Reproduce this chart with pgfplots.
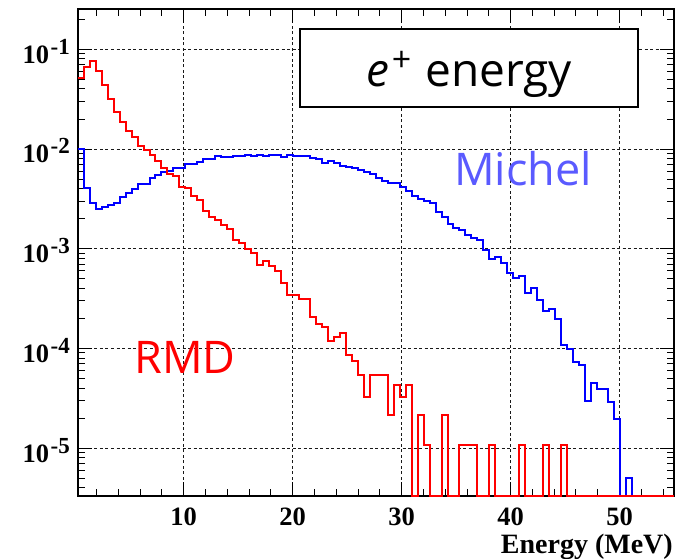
\documentclass[border=0pt]{standalone}
\usepackage{fontspec}
\setmainfont{Liberation Serif}
\newfontfamily\osans{Open Sans}
\usepackage{pgfplots}
\usepackage{pgfplotstable}
\pgfplotsset{compat=1.18}
\definecolor{hblue}{RGB}{0,0,255}
\definecolor{hred}{RGB}{255,0,0}
\definecolor{micol}{RGB}{90,90,255}
\newcommand{\tpow}[1]{10\hspace{1.5pt}\raisebox{9pt}{\fontsize{23}{23}\selectfont #1}}

\pgfplotstableread{
E red blue
0.300 0.0519 0.0100
0.847 0.0669 0.00403
1.394 0.0763 0.00285
1.941 0.0610 0.00247
2.488 0.0441 0.00262
3.035 0.0317 0.00274
3.582 0.0235 0.00287
4.129 0.01866 0.00326
4.676 0.01515 0.00359
5.223 0.01329 0.00393
5.770 0.01079 0.00445
6.317 0.00977 0.00445
6.864 0.00865 0.00512
7.411 0.00752 0.00542
7.958 0.00640 0.00588
8.505 0.00561 0.00602
9.052 0.00540 0.00637
9.599 0.00416 0.00645
10.146 0.00406 0.00707
10.693 0.00338 0.00707
11.240 0.00311 0.00746
11.787 0.00239 0.00788
12.334 0.00210 0.00785
12.881 0.00193 0.00857
13.428 0.00173 0.00826
13.975 0.00159 0.00837
14.522 0.00123 0.00857
15.069 0.00113 0.00841
15.616 0.000993 0.00865
16.163 0.000905 0.00851
16.710 0.000679 0.00865
17.257 0.000749 0.00857
17.804 0.000663 0.00871
18.351 0.000590 0.00877
18.898 0.000450 0.00826
19.445 0.000339 0.00877
19.992 0.000343 0.00857
20.539 0.000311 0.00851
21.086 0.000311 0.00841
21.633 0.000206 0.00812
22.180 0.000174 0.00788
22.727 0.000163 0.00729
23.274 0.000119 0.00752
23.821 0.000129 0.00719
24.368 0.000142 0.00675
24.915 8.59e-5 0.00655
25.462 7.51e-5 0.00640
26.009 5.37e-5 0.00616
26.556 3.22e-5 0.00588
27.103 5.37e-5 0.00557
27.650 5.37e-5 0.00512
28.197 5.37e-5 0.00474
28.744 2.15e-5 0.00459
29.291 4.29e-5 0.00453
29.838 3.22e-5 0.00413
30.385 4.29e-5 0.00382
30.932 3.3e-6 0.00338
31.479 2.15e-5 0.00317
32.026 1.07e-5 0.00299
32.573 3.3e-6 0.00289
33.120 3.3e-6 0.00235
33.667 2.15e-5 0.00209
34.214 3.3e-6 0.00177
34.761 3.3e-6 0.00160
35.308 1.07e-5 0.00154
35.855 1.07e-5 0.00138
36.402 1.07e-5 0.00127
36.949 3.3e-6 0.00122
37.496 3.3e-6 0.000971
38.043 1.07e-5 0.000783
38.590 3.3e-6 0.000832
39.137 3.3e-6 0.000724
39.684 3.3e-6 0.000574
40.231 3.3e-6 0.000508
40.778 1.07e-5 0.000532
41.325 3.3e-6 0.000357
41.872 3.3e-6 0.000401
42.419 3.3e-6 0.000306
42.966 1.07e-5 0.000239
43.513 3.3e-6 0.000250
44.060 3.3e-6 0.000196
44.607 1.07e-5 0.000107
45.154 3.3e-6 9.93e-5
45.701 3.3e-6 7.36e-5
46.248 3.3e-6 6.87e-5
46.795 3.3e-6 2.95e-5
47.342 3.3e-6 4.47e-5
47.889 3.3e-6 3.94e-5
48.436 3.3e-6 3.94e-5
48.983 3.3e-6 2.90e-5
49.530 3.3e-6 1.97e-5
50.077 3.3e-6 3.3e-6
50.624 3.3e-6 4.98e-6
51.171 3.3e-6 3.3e-6
51.718 3.3e-6 3.3e-6
52.265 3.3e-6 3.3e-6
52.812 3.3e-6 3.3e-6
53.359 3.3e-6 3.3e-6
53.906 3.3e-6 3.3e-6
54.453 3.3e-6 3.3e-6
55.000 3.3e-6 3.3e-6
}\histdata

\begin{document}
\begin{tikzpicture}[x=1pt,y=1pt]
\begin{axis}[
  at={(0,0)}, anchor=south west,
  scale only axis, width=596pt, height=487pt,
  ymode=log,
  xmin=0.3, xmax=55, ymin=3.3e-6, ymax=0.2535,
  axis line style={line width=1.5pt},
  tick align=inside, xtick pos=both, ytick pos=both,
  major tick length=14pt, minor tick length=7pt,
  every tick/.style={black, line width=0.9pt},
  xtick={10,20,30,40,50}, xticklabels={10,20,30,40,50},
  minor xtick={2,4,6,8,12,14,16,18,22,24,26,28,32,34,36,38,42,44,46,48,52,54},
  ytick={1e-5,1e-4,1e-3,1e-2,1e-1},
  yticklabels={\tpow{-5},\tpow{-4},\tpow{-3},\tpow{-2},\tpow{-1}},
  minor ytick={4e-6,5e-6,6e-6,7e-6,8e-6,9e-6,
    2e-5,3e-5,4e-5,5e-5,6e-5,7e-5,8e-5,9e-5,
    2e-4,3e-4,4e-4,5e-4,6e-4,7e-4,8e-4,9e-4,
    2e-3,3e-3,4e-3,5e-3,6e-3,7e-3,8e-3,9e-3,
    2e-2,3e-2,4e-2,5e-2,6e-2,7e-2,8e-2,9e-2,2e-1},
  grid=major,
  major grid style={black!90, line width=0.7pt, dash pattern=on 3pt off 2.5pt},
  tick label style={font=\fontsize{26.5}{26.5}\selectfont\bfseries},
  xticklabel style={anchor=base, yshift=-29pt},
  yticklabel style={anchor=base east, inner sep=0pt, xshift=-8pt, yshift=-14pt},
]
\addplot[const plot, color=hblue, line width=2pt, line join=miter, forget plot] table[x=E, y=blue] {\histdata};
\addplot[const plot, color=hred, line width=2pt, line join=miter, forget plot] table[x=E, y=red] {\histdata};
\end{axis}
\draw[line width=1.8pt, fill=white] (222,388.7) rectangle (560.3,466.7);
\node[anchor=base, inner sep=0pt, font=\osans\fontsize{46}{46}\selectfont] at (391,409.3)
  {\textit{e}\hspace{3pt}\raisebox{15pt}{\fontsize{34}{34}\selectfont +}\hspace{2pt} energy};
\node[anchor=base west, inner sep=0pt, text=micol, font=\osans\fontsize{45}{45}\selectfont] at (376,311) {Michel};
\node[anchor=base west, inner sep=0pt, text=hred, font=\osans\fontsize{45}{45}\selectfont] at (56,122.7) {RMD};
\node[anchor=base east, inner sep=0pt, font=\fontsize{28}{28}\selectfont\bfseries] at (595,-57) {Energy (MeV)};
\pgfresetboundingbox
\path[use as bounding box] (-78,-62) rectangle (599,496);
\end{tikzpicture}
\end{document}
